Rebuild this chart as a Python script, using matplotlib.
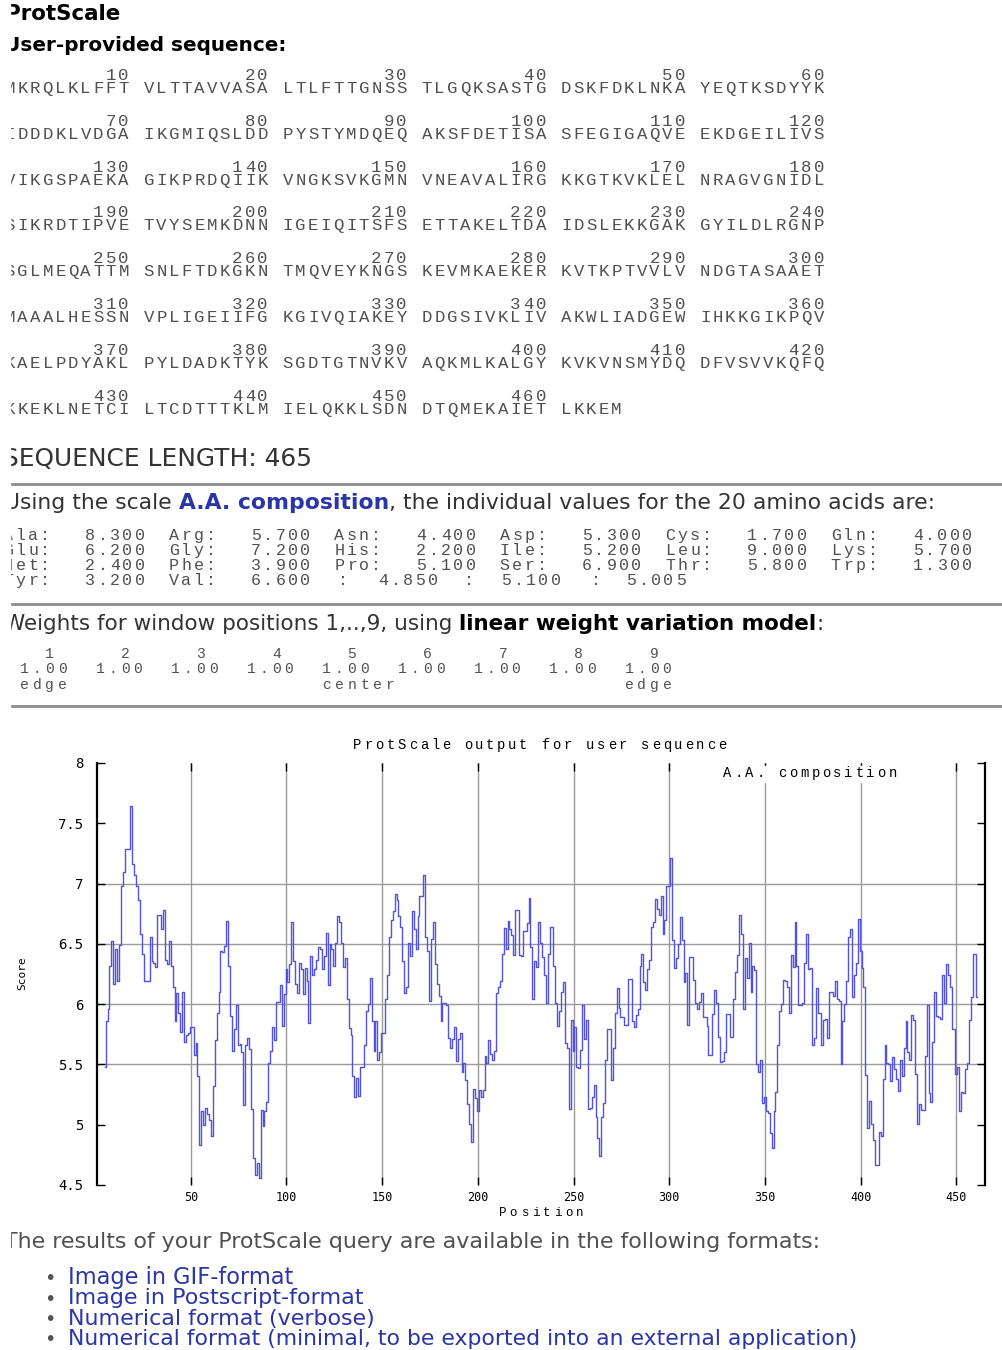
import numpy as np
import matplotlib
matplotlib.use("Agg")
import matplotlib.pyplot as plt
from matplotlib.lines import Line2D
from matplotlib.patches import Rectangle

W, H = 1002, 1350
MONO = "Liberation Mono"
SANS = "DejaVu Sans"
TEXT = "#333333"
GRAY = "#505050"
LINK = "#2a35a8"
CURVE = "#5252e0"

# sequence, as printed in blocks of ten
seq_rows = [
    ["MKRQLKLFFT", "VLTTAVVASA", "LTLFTTGNSS", "TLGQKSASTG", "DSKFDKLNKA", "YEQTKSDYYK"],
    ["IDDDKLVDGA", "IKGMIQSLDD", "PYSTYMDQEQ", "AKSFDETISA", "SFEGIGAQVE", "EKDGEILIVS"],
    ["VIKGSPAEKA", "GIKPRDQIIK", "VNGKSVKGMN", "VNEAVALIRG", "KKGTKVKLEL", "NRAGVGNIDL"],
    ["SIKRDTIPVE", "TVYSEMKDNN", "IGEIQITSFS", "ETTAKELTDA", "IDSLEKKGAK", "GYILDLRGNP"],
    ["SGLMEQATTM", "SNLFTDKGKN", "TMQVEYKNGS", "KEVMKAEKER", "KVTKPTVVLV", "NDGTASAAET"],
    ["MAAALHESSN", "VPLIGEIIFG", "KGIVQIAKEY", "DDGSIVKLIV", "AKWLIADGEW", "IHKKGIKPQV"],
    ["KAELPDYAKL", "PYLDADKTYK", "SGDTGTNVKV", "AQKMLKALGY", "KVKVNSMYDQ", "DFVSVVKQFQ"],
    ["KKEKLNETCI", "LTCDTTTKLM", "IELQKKLSDN", "DTQMEKAIET", "LKKEM"],
]
seq_length = 465

# A.A. composition scale
aa_names = ["Ala", "Arg", "Asn", "Asp", "Cys", "Gln", "Glu", "Gly", "His", "Ile",
            "Leu", "Lys", "Met", "Phe", "Pro", "Ser", "Thr", "Trp", "Tyr", "Val"]
aa_values = [8.3, 5.7, 4.4, 5.3, 1.7, 4.0, 6.2, 7.2, 2.2, 5.2,
             9.0, 5.7, 2.4, 3.9, 5.1, 6.9, 5.8, 1.3, 3.2, 6.6]
extra_values = [4.850, 5.100, 5.005]
window_weights = [1.0] * 9

# window score for window centres 5..461
first_pos = 5
score = [
    5.48, 5.86, 5.96, 6.32, 6.52, 6.17, 6.46, 6.19, 6.49, 6.98,
    7.10, 7.29, 7.29, 7.29, 7.64, 7.16, 7.07, 6.98, 6.86, 6.58,
    6.42, 6.19, 6.19, 6.19, 6.56, 6.36, 6.34, 6.31, 6.74, 6.74,
    6.62, 6.78, 6.37, 6.33, 6.52, 6.32, 6.14, 5.86, 6.09, 5.93,
    5.77, 6.10, 5.69, 5.74, 5.76, 5.81, 5.81, 5.58, 5.68, 5.40,
    4.83, 5.11, 5.00, 5.14, 5.09, 5.04, 4.91, 5.32, 5.70, 5.93,
    6.10, 6.44, 6.43, 6.48, 6.69, 6.32, 5.90, 5.61, 5.79, 5.99,
    5.66, 5.67, 5.60, 5.16, 5.66, 5.72, 5.63, 5.13, 4.72, 4.58,
    4.68, 4.56, 5.12, 4.99, 5.11, 5.19, 5.51, 5.61, 5.81, 5.70,
    6.02, 6.02, 6.16, 5.82, 6.08, 6.29, 6.18, 6.33, 6.68, 6.36,
    6.17, 6.09, 6.34, 6.29, 6.08, 6.30, 6.19, 5.84, 6.40, 6.24,
    6.29, 6.37, 6.47, 6.46, 6.29, 6.40, 6.59, 6.16, 6.50, 6.46,
    6.32, 6.51, 6.73, 6.68, 6.51, 6.31, 6.38, 6.04, 5.80, 5.74,
    5.40, 5.23, 5.39, 5.24, 5.48, 5.48, 5.66, 5.94, 6.00, 6.22,
    5.86, 5.61, 5.86, 5.54, 5.60, 5.76, 5.76, 6.04, 6.24, 6.56,
    6.70, 6.77, 6.91, 6.86, 6.73, 6.64, 6.36, 6.09, 6.14, 6.51,
    6.40, 6.77, 6.62, 6.46, 6.73, 6.90, 6.90, 7.07, 6.56, 6.44,
    6.03, 6.54, 6.68, 6.33, 6.17, 6.07, 5.86, 6.01, 6.01, 5.99,
    5.72, 5.64, 5.71, 5.81, 5.53, 5.71, 5.76, 5.44, 5.51, 5.37,
    5.17, 5.01, 4.86, 5.30, 5.22, 5.11, 5.29, 5.23, 5.29, 5.57,
    5.51, 5.70, 5.59, 5.54, 5.61, 6.09, 6.14, 6.19, 6.42, 6.63,
    6.46, 6.69, 6.62, 6.57, 6.41, 6.78, 6.78, 6.41, 6.40, 6.61,
    6.61, 6.67, 6.88, 6.47, 6.04, 6.36, 6.31, 6.68, 6.51, 6.39,
    6.24, 6.01, 6.42, 6.64, 6.64, 6.32, 6.01, 5.82, 5.94, 6.10,
    6.18, 5.68, 5.64, 5.13, 5.87, 5.61, 5.81, 5.48, 5.47, 5.62,
    5.99, 5.71, 5.87, 5.13, 5.14, 5.23, 5.33, 5.06, 4.89, 4.74,
    5.06, 5.18, 5.54, 5.79, 5.79, 5.37, 5.64, 5.93, 6.13, 5.97,
    5.89, 5.89, 5.83, 5.83, 6.21, 6.21, 5.86, 5.81, 5.91, 5.96,
    6.32, 6.42, 6.18, 6.12, 6.29, 6.37, 6.64, 6.68, 6.87, 6.79,
    6.74, 6.90, 6.58, 6.70, 6.98, 6.98, 7.21, 6.53, 6.30, 6.38,
    6.50, 6.72, 6.53, 6.18, 6.26, 5.83, 6.39, 6.39, 6.20, 6.01,
    5.96, 6.02, 6.09, 5.89, 5.89, 5.82, 5.58, 5.58, 5.92, 6.12,
    6.01, 5.73, 5.52, 5.53, 5.60, 5.92, 5.92, 5.73, 5.73, 6.04,
    6.27, 6.41, 6.74, 6.58, 5.96, 6.38, 6.22, 6.51, 6.10, 6.32,
    6.28, 5.50, 5.44, 5.54, 5.18, 5.23, 5.11, 5.10, 4.93, 4.81,
    5.11, 5.27, 5.66, 5.94, 6.00, 6.20, 6.19, 6.14, 5.93, 6.41,
    6.31, 6.68, 6.32, 5.99, 5.99, 6.01, 6.34, 6.58, 6.29, 6.30,
    5.66, 5.72, 6.13, 5.93, 5.93, 5.66, 5.87, 5.88, 5.72, 6.10,
    6.10, 6.07, 6.19, 6.04, 6.03, 5.50, 5.86, 6.00, 6.19, 6.56,
    6.62, 6.06, 6.24, 6.34, 6.71, 6.44, 6.30, 6.14, 5.41, 4.97,
    5.20, 5.01, 4.87, 4.67, 4.67, 4.94, 4.91, 5.38, 5.66, 5.51,
    5.50, 5.36, 5.56, 5.46, 5.38, 5.28, 5.54, 5.40, 5.64, 5.86,
    5.60, 5.54, 5.91, 5.87, 5.42, 5.01, 5.17, 5.12, 5.12, 5.57,
    5.99, 5.26, 5.19, 5.69, 6.10, 5.90, 5.89, 5.88, 6.24, 6.01,
    6.33, 6.24, 6.14, 5.79, 5.79, 5.42, 5.48, 5.11, 5.27, 5.26,
    5.46, 5.51, 5.87, 6.06, 6.42, 6.42, 6.06,
]
pos = np.arange(first_pos, first_pos + len(score))

links = ["Image in GIF-format", "Image in Postscript-format", "Numerical format (verbose)",
         "Numerical format (minimal, to be exported into an external application)"]

fig = plt.figure(figsize=(W / 100, H / 100), dpi=100)
renderer = fig.canvas.get_renderer()


def fy(y):
    return 1 - y / H


def mono(x0, y, s, pitch=12.64, size=12.5, color=GRAY, weight="normal"):
    # one glyph per cell so the wide fixed pitch is kept
    for i, ch in enumerate(s):
        if ch != " ":
            fig.text((x0 + (i + 0.5) * pitch) / W, fy(y), ch, ha="center", va="baseline",
                     family=MONO, fontsize=size, color=color, fontweight=weight)


def text_w(t):
    return t.get_window_extent(renderer).width


def space_w(sz):
    a = fig.text(0, 0, "n n", family=SANS, fontsize=sz)
    b = fig.text(0, 0, "nn", family=SANS, fontsize=sz)
    w = text_w(a) - text_w(b)
    a.remove()
    b.remove()
    return w


def sans(y, parts, x0, x1, size=14):
    # run of text pieces (plain / bold / coloured) sized to span x0..x1
    items = []
    for s, weight, color in parts:
        t = fig.text(0, fy(y), s.strip(), family=SANS, fontsize=size,
                     fontweight=weight, color=color, va="baseline")
        items.append((t, s.startswith(" "), s.endswith(" ")))
    nsp = sum(int(a) + int(b) for _, a, b in items)
    total = sum(text_w(t) for t, _, _ in items) + nsp * space_w(size)
    size = size * (x1 - x0) / total
    sw = space_w(size)
    x = x0
    for t, lead, trail in items:
        t.set_fontsize(size)
        if lead:
            x += sw
        t.set_x(x / W)
        x += text_w(t)
        if trail:
            x += sw


def rule(y):
    fig.add_artist(Line2D([10 / W, 1], [fy(y), fy(y)], color="#8c8c8c", lw=2))


# page header
sans(20, [("ProtScale", "bold", "black")], 5, 121)
sans(51, [("User-provided sequence:", "bold", "black")], 4, 288)

row_y = [93, 139, 185, 230, 276, 322, 368, 414]
for r, blocks in enumerate(seq_rows):
    for b, blk in enumerate(blocks):
        bx = 3.5 + b * 11 * 12.64
        mono(bx, row_y[r], blk)
        if len(blk) == 10:
            num = str(r * 60 + (b + 1) * 10)
            mono(bx + (10 - len(num)) * 12.64, row_y[r] - 13, num)

sans(466, [("SEQUENCE LENGTH: %d" % seq_length, "normal", TEXT)], 3, 312)
rule(484)
sans(509, [("Using the scale ", "normal", TEXT), ("A.A. composition", "bold", LINK),
           (", the individual values for the 20 amino acids are:", "normal", TEXT)], 4, 935)

# scale table
tab_y = [540, 555, 570, 585]
for i, (name, val) in enumerate(zip(aa_names, aa_values)):
    r, c = divmod(i, 6)
    cx = 2 + c * 165.5
    mono(cx, tab_y[r], name + ":", pitch=12.4, size=12)
    mono(cx + 82, tab_y[r], "%.3f" % val, pitch=12.4, size=12)
for cx, vx, val in zip([337, 463, 590], [377, 500, 625], extra_values):
    mono(cx, tab_y[3], ":", pitch=12.4, size=12)
    mono(vx, tab_y[3], "%.3f" % val, pitch=12.4, size=12)
rule(604)

sans(630, [("Weights for window positions 1,..,9, using ", "normal", TEXT),
           ("linear weight variation model", "bold", "black"), (":", "normal", TEXT)], 4, 828)
wp = 12.6
wx = 5.4
for k, w in enumerate(window_weights):
    mono(wx + (6 * k + 3) * wp, 658, str(k + 1), pitch=wp, size=10.5)
    mono(wx + (6 * k + 1) * wp, 673, "%.2f" % w, pitch=wp, size=10.5)
mono(wx + wp, 689, "edge", pitch=wp, size=10.5)
mono(wx + 25 * wp, 689, "center", pitch=wp, size=10.5)
mono(wx + 49 * wp, 689, "edge", pitch=wp, size=10.5)
rule(706)

# profile plot
ax = fig.add_axes([97 / W, 1 - 1185 / H, 888 / W, 422 / H])
ax.plot(pos, score, color=CURVE, lw=1.0, drawstyle="steps-mid", zorder=3)
ax.set_xlim(1, 465)
ax.set_ylim(4.5, 8)
xt = list(range(50, 451, 50))
yt = [4.5, 5, 5.5, 6, 6.5, 7, 7.5, 8]
ax.set_xticks(xt)
ax.set_yticks(yt)
ax.set_yticklabels(["%g" % t for t in yt])
for xv in xt:
    ax.axvline(xv, color="#9a9a9a", lw=1, zorder=1)
for yv in [5.5, 6, 6.5, 7]:
    ax.axhline(yv, color="#9a9a9a", lw=1, zorder=1)
ax.tick_params(axis="x", direction="in", top=True, bottom=True, length=6, width=1,
               pad=4, labelsize=8.5)
ax.tick_params(axis="y", direction="in", left=True, right=True, length=6, width=1,
               pad=10, labelsize=10)
for lab in ax.get_xticklabels() + ax.get_yticklabels():
    lab.set_family("DejaVu Sans Mono")
for s in ["top", "bottom"]:
    ax.spines[s].set_visible(False)
for s in ["left", "right"]:
    ax.spines[s].set_linewidth(1.6)

mono(352, 749, "ProtScale output for user sequence", pitch=11.06, size=10, color="black")
fig.add_artist(Rectangle((720 / W, fy(782)), 180 / W, 16 / H, transform=fig.transFigure,
                         color="white", zorder=2))
mono(722, 777, "A.A. composition", pitch=11.0, size=10, color="black")
mono(497, 1216, "Position", pitch=11.0, size=9, color="black")
fig.text(22 / W, fy(973), "Score", rotation=90, ha="center", va="center",
         family="DejaVu Sans Mono", fontsize=8)

sans(1248, [("The results of your ProtScale query are available in the following formats:",
             "normal", GRAY)], 4, 823)
link_ends = [294, 363, 375, 856]
for i, (s, x1) in enumerate(zip(links, link_ends)):
    y = 1284 + i * 20.3
    fig.text(50 / W, fy(y - 5), "\u2022", ha="center", va="center", family=SANS,
             fontsize=14, color="#555555")
    sans(y, [(s, "normal", LINK)], 68, x1)

# left edge of the page is cut off
fig.add_artist(Rectangle((0, 0), 9.5 / W, 1, transform=fig.transFigure, color="white", zorder=50))

fig.savefig("out.png", dpi=100)
